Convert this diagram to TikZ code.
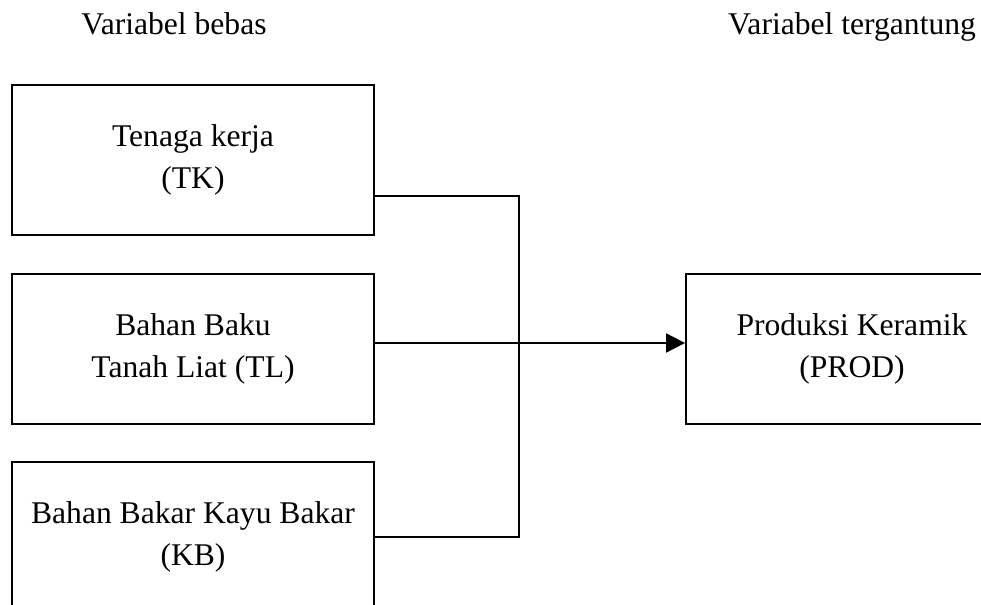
\documentclass[tikz,border=0pt]{standalone}
\usepackage{fontspec}
\setmainfont{Liberation Serif}
\usetikzlibrary{arrows.meta}
\begin{document}
\begin{tikzpicture}[x=0.5pt,y=-0.5pt]
	% size of each box
	\def\bw{181pt}
	\def\bh{75pt}
	% node style definition
	\tikzstyle{var} = [draw, rectangle, line width=0.9pt, minimum width=\bw, minimum height=\bh, align=center, inner sep=0pt, font=\fontsize{15.8}{21}\selectfont];
	\tikzstyle{head} = [anchor=base, font=\fontsize{15.8}{21}\selectfont];
	\tikzstyle{conn} = [line width=0.9pt];
	% page frame, boxes run off the edge
	\useasboundingbox (0,0) rectangle (981,605);
	\clip (0,0) rectangle (981,605);
	\node[head] (bebas) at (174,34) {Variabel bebas};
	\node[head] (tergantung) at (852,34) {Variabel tergantung};
	\node[var] (TK) at (193,160) {Tenaga kerja\\(TK)};
	\node[var] (TL) at (193,349) {Bahan Baku\\Tanah Liat (TL)};
	\node[var] (KB) at (193,537) {Bahan Bakar Kayu Bakar\\(KB)};
	\node[var, minimum width=166pt] (PROD) at (852,349) {Produksi Keramik\\(PROD)};
	\coordinate (bus) at (519,343);
	\draw[conn] ([yshift=-18pt]TK.east) -| (bus) |- (KB.east);
	\draw[conn,-{Triangle[length=9.5pt,width=9.5pt]}] ([yshift=3pt]TL.east) -- ([yshift=3pt]PROD.west);
\end{tikzpicture}
\end{document}
